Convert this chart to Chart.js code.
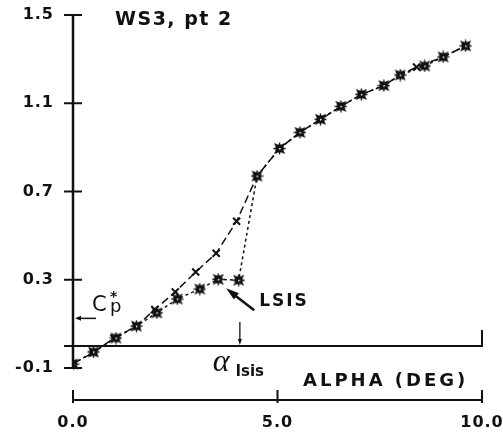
<!DOCTYPE html>
<html>
<head>
<meta charset="utf-8">
<script src="https://cdn.jsdelivr.net/npm/chart.js@4"></script>
<style>
  html, body { margin: 0; padding: 0; background: #fff; }
  #wrap { width: 503px; height: 437px; position: relative; }
</style>
</head>
<body>
<div id="wrap"><canvas id="cpChart"></canvas></div>
<script>
// measured points, upper branch (x markers, dashed)
const alphaUpper = [0.0, 0.5, 1.0, 1.55, 2.0, 2.5, 3.0, 3.5, 4.0, 4.5, 5.05, 5.55, 6.05, 6.55, 7.05, 7.6, 8.0, 8.4, 9.05, 9.6];
const cpUpper = [-0.08, -0.03, 0.035, 0.09, 0.165, 0.245, 0.335, 0.42, 0.565, 0.77, 0.895, 0.968, 1.027, 1.086, 1.14, 1.18, 1.228, 1.264, 1.31, 1.36];

// lower branch (square markers, dotted) - goes through LSIS
const alphaLower = [0.0, 0.5, 1.05, 1.55, 2.05, 2.55, 3.1, 3.55, 4.05, 4.5, 5.05, 5.55, 6.05, 6.55, 7.05, 7.6, 8.0, 8.6, 9.05, 9.6];
const cpLower = [-0.082, -0.027, 0.036, 0.09, 0.15, 0.213, 0.258, 0.302, 0.298, 0.77, 0.895, 0.968, 1.027, 1.086, 1.14, 1.18, 1.228, 1.269, 1.31, 1.36];

const xTickValues = [0, 5, 10];
const yTickValues = [-0.1, 0.3, 0.7, 1.1, 1.5];

const alphaLsis = 4.08;   // vertical marker on the Cp = 0 line
const cpStar = 0.125;     // C*p arrow level
const cpRef = 0.0;        // reference line
const lsisIndex = 7;      // lower-branch point the LSIS arrow points at

const ink = '#111';
const boldFont = '"DejaVu Sans", sans-serif';

// square-with-star marker
const squareMark = document.createElement('canvas');
squareMark.width = 13;
squareMark.height = 13;
(function () {
  const c = squareMark.getContext('2d');
  c.strokeStyle = ink;
  c.fillStyle = ink;
  c.lineWidth = 1.3;
  c.beginPath();
  c.moveTo(0.5, 6.5); c.lineTo(12.5, 6.5);
  c.moveTo(6.5, 0.5); c.lineTo(6.5, 12.5);
  c.moveTo(1.5, 1.5); c.lineTo(11.5, 11.5);
  c.moveTo(11.5, 1.5); c.lineTo(1.5, 11.5);
  c.stroke();
  c.fillRect(2.5, 2.5, 8, 8);
  c.fillStyle = '#fff';
  c.fillRect(6, 6, 1.5, 1.5);
})();

function arrowHead(ctx, x, y, angle, len, wid) {
  ctx.save();
  ctx.translate(x, y);
  ctx.rotate(angle);
  ctx.beginPath();
  ctx.moveTo(0, 0);
  ctx.lineTo(-len, -wid / 2);
  ctx.lineTo(-len, wid / 2);
  ctx.closePath();
  ctx.fill();
  ctx.restore();
}

function spacedText(ctx, text, x, y, font, spacing) {
  ctx.save();
  ctx.font = font;
  ctx.letterSpacing = spacing;
  ctx.textAlign = 'left';
  ctx.textBaseline = 'middle';
  ctx.fillText(text, x, y);
  ctx.restore();
}

const sketchAxes = {
  id: 'sketchAxes',
  beforeDraw(chart) {
    chart.ctx.letterSpacing = '1px';
  },
  afterDraw(chart) {
    const ctx = chart.ctx;
    ctx.letterSpacing = '0px';
    const xS = chart.scales.x, yS = chart.scales.y;
    const x0 = xS.getPixelForValue(0);
    const xEnd = xS.getPixelForValue(10);
    const area = chart.chartArea;

    ctx.save();
    ctx.strokeStyle = ink;
    ctx.fillStyle = ink;
    ctx.lineCap = 'butt';

    // y axis line and ticks
    ctx.lineWidth = 2.5;
    ctx.beginPath();
    ctx.moveTo(x0, yS.getPixelForValue(1.5) - 1);
    ctx.lineTo(x0, yS.getPixelForValue(-0.1) + 1);
    ctx.stroke();
    ctx.lineWidth = 2;
    yTickValues.forEach(v => {
      const y = yS.getPixelForValue(v);
      ctx.beginPath();
      ctx.moveTo(x0 - 9, y);
      ctx.lineTo(x0 + 9, y);
      ctx.stroke();
    });

    // x axis line and ticks
    const yb = area.bottom;
    ctx.lineWidth = 2;
    ctx.beginPath();
    ctx.moveTo(x0, yb);
    ctx.lineTo(xEnd, yb);
    ctx.stroke();
    xTickValues.forEach(v => {
      const x = xS.getPixelForValue(v);
      ctx.beginPath();
      ctx.moveTo(x, yb - 10);
      ctx.lineTo(x, yb + 3);
      ctx.stroke();
    });

    // Cp = 0 reference line with end tick
    const yr = yS.getPixelForValue(cpRef);
    ctx.lineWidth = 2;
    ctx.beginPath();
    ctx.moveTo(x0 - 9, yr);
    ctx.lineTo(xEnd, yr);
    ctx.lineTo(xEnd, yr - 16);
    ctx.stroke();

    // alpha_lsis marker
    const xl = xS.getPixelForValue(alphaLsis);
    ctx.lineWidth = 1.3;
    ctx.beginPath();
    ctx.moveTo(xl, yr - 24);
    ctx.lineTo(xl, yr - 5);
    ctx.stroke();
    arrowHead(ctx, xl, yr - 1, Math.PI / 2, 6, 4);

    // C*p arrow
    const yc = yS.getPixelForValue(cpStar);
    ctx.lineWidth = 1.5;
    ctx.beginPath();
    ctx.moveTo(x0 + 23, yc);
    ctx.lineTo(x0 + 6, yc);
    ctx.stroke();
    arrowHead(ctx, x0 + 2, yc, Math.PI, 6, 5);

    // LSIS arrow to lower-branch point
    const pt = chart.getDatasetMeta(0).data[lsisIndex];
    const tipX = pt.x + 8, tipY = pt.y + 9;
    const tailX = tipX + 28, tailY = tipY + 22;
    ctx.lineWidth = 2.5;
    ctx.beginPath();
    ctx.moveTo(tailX, tailY);
    ctx.lineTo(tipX + 6, tipY + 5);
    ctx.stroke();
    arrowHead(ctx, tipX, tipY, Math.atan2(tipY - tailY, tipX - tailX), 13, 8);

    // texts
    spacedText(ctx, 'WS3, pt 2', 115, 20, 'bold 19px ' + boldFont, '1.5px');
    spacedText(ctx, 'LSIS', tailX + 5, 302, 'bold 17px ' + boldFont, '2px');
    spacedText(ctx, 'ALPHA (DEG)', 303, 381, 'bold 18px ' + boldFont, '3px');

    // C*p label
    ctx.textAlign = 'left';
    ctx.textBaseline = 'alphabetic';
    ctx.font = '21px ' + boldFont;
    ctx.fillText('C', 92, 311);
    ctx.font = 'bold 14px ' + boldFont;
    ctx.fillText('*', 110, 301);
    ctx.font = '18px ' + boldFont;
    ctx.fillText('p', 110, 312);

    // alpha_lsis label
    ctx.font = 'italic 32px "Liberation Serif", serif';
    ctx.fillText('\u03b1', xl - 27, 371);
    ctx.font = 'bold 15px ' + boldFont;
    ctx.fillText('lsis', xl - 4, 376);
    ctx.restore();
  }
};

const ctx = document.getElementById('cpChart').getContext('2d');

new Chart(ctx, {
  type: 'line',
  data: {
    datasets: [
      {
        label: 'lower',
        data: alphaLower.map((a, i) => ({ x: a, y: cpLower[i] })),
        borderColor: ink,
        borderWidth: 1.5,
        borderDash: [3, 3],
        pointStyle: squareMark,
        pointRadius: 6,
        tension: 0,
        fill: false
      },
      {
        label: 'upper',
        data: alphaUpper.map((a, i) => ({ x: a, y: cpUpper[i] })),
        borderColor: ink,
        borderWidth: 1.5,
        borderDash: [8, 4],
        pointStyle: 'crossRot',
        pointRadius: 5,
        pointBorderWidth: 2,
        pointBorderColor: ink,
        tension: 0,
        fill: false
      }
    ]
  },
  options: {
    responsive: true,
    maintainAspectRatio: false,
    animation: false,
    layout: { padding: { top: 15, right: 21, left: 0, bottom: 0 } },
    plugins: {
      legend: { display: false },
      tooltip: { enabled: false }
    },
    scales: {
      x: {
        type: 'linear',
        min: 0,
        max: 10,
        grid: { display: false, drawTicks: false },
        border: { display: false },
        afterBuildTicks: s => { s.ticks = xTickValues.map(v => ({ value: v })); },
        afterFit: s => {
          s.height = 37;
          s.paddingLeft = 0;
          s.paddingRight = 0;
        },
        ticks: {
          padding: 13,
          color: ink,
          maxRotation: 0,
          font: { family: boldFont, size: 16, weight: 'bold' },
          callback: v => Number(v).toFixed(1)
        }
      },
      y: {
        type: 'linear',
        min: -0.245,
        max: 1.5,
        grid: { display: false, drawTicks: false },
        border: { display: false },
        afterBuildTicks: s => { s.ticks = yTickValues.map(v => ({ value: v })); },
        afterFit: s => {
          s.width = 73;
          s.paddingTop = 0;
          s.paddingBottom = 0;
        },
        ticks: {
          padding: 19,
          color: ink,
          font: { family: boldFont, size: 16, weight: 'bold' },
          callback: v => Number(v).toFixed(1)
        }
      }
    }
  },
  plugins: [sketchAxes]
});
</script>
</body>
</html>
